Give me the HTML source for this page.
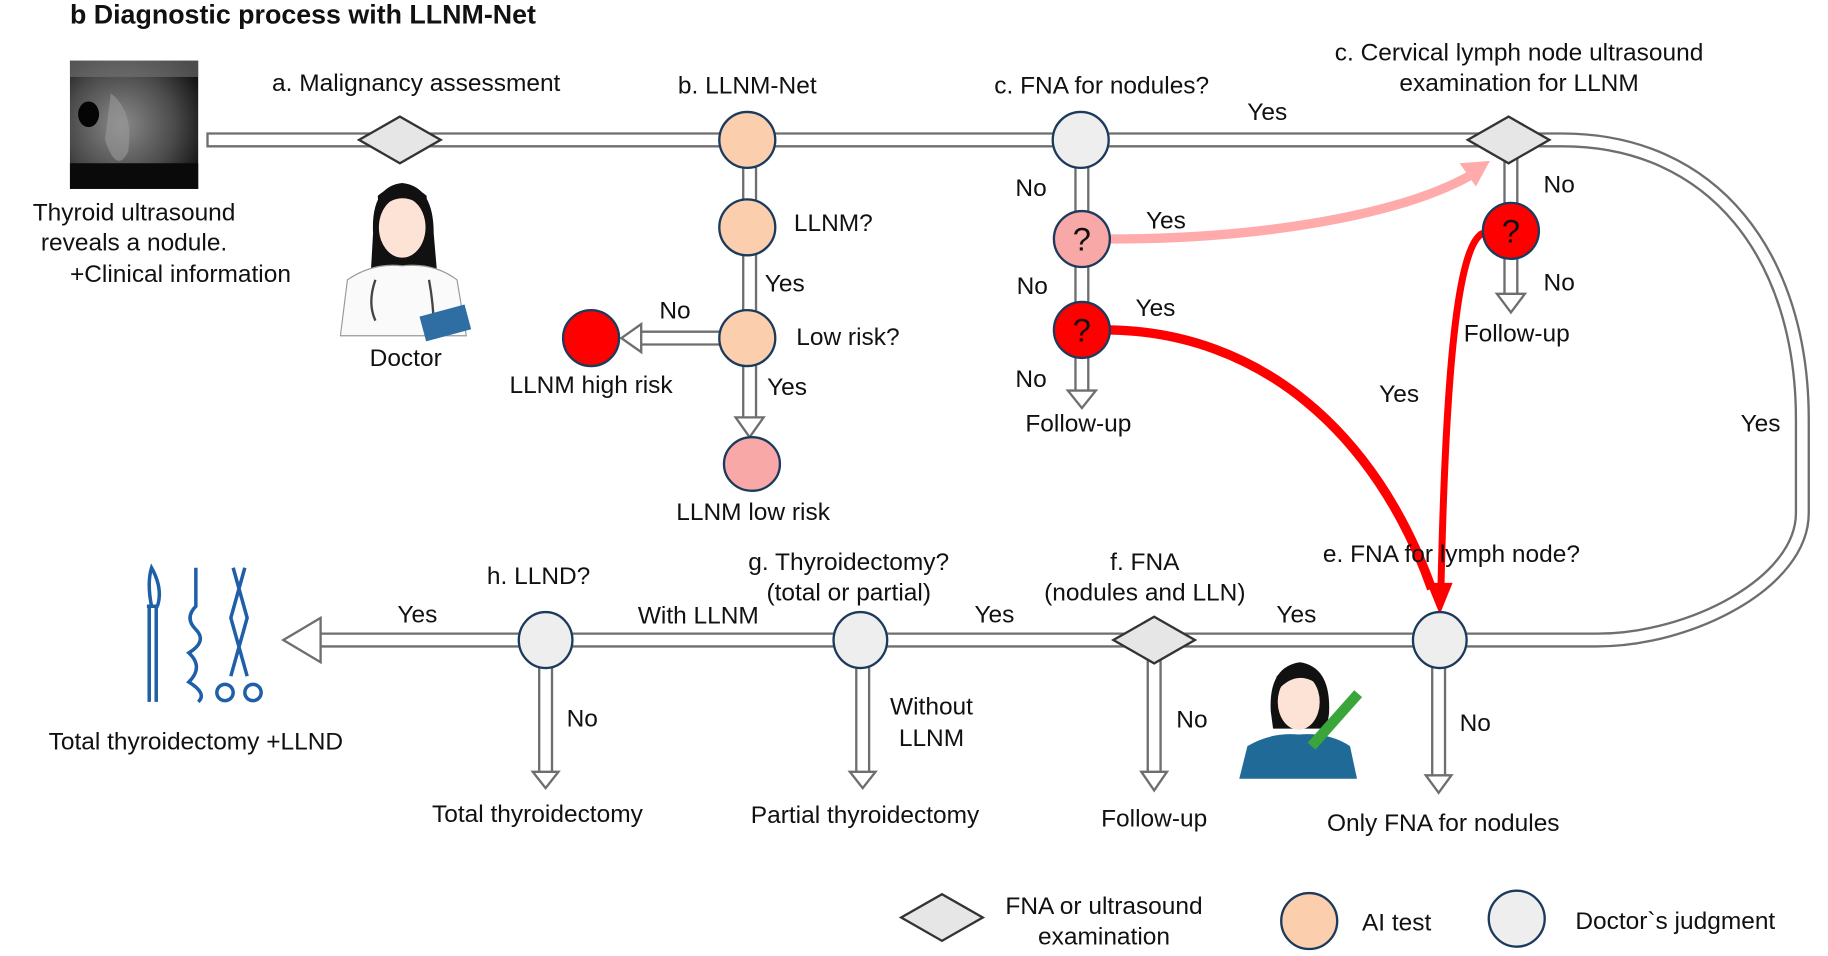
<!DOCTYPE html>
<html><head><meta charset="utf-8"><style>
html,body{margin:0;padding:0;background:#fff;}
svg{display:block;}
text{font-family:"Liberation Sans",Arial,sans-serif;font-size:21px;fill:#111;}
</style></head><body>
<svg width="1828" height="956" viewBox="0 0 1568 820" xmlns="http://www.w3.org/2000/svg">
<defs>
<radialGradient id="us" cx="0.4" cy="0.5" r="0.7">
<stop offset="0" stop-color="#8a8a8a"/><stop offset="0.6" stop-color="#4a4a4a"/><stop offset="1" stop-color="#111"/>
</radialGradient>
</defs>
<text x="60" y="20" style="font-weight:bold;font-size:23px">b Diagnostic process with LLNM-Net</text>

<rect x="60" y="52" width="110" height="110" fill="url(#us)"/>
<rect x="60" y="52" width="110" height="14" fill="#777" opacity="0.6"/>
<ellipse cx="76" cy="98" rx="9" ry="11" fill="#050505"/>
<path d="M95 80 Q115 95 110 130 Q100 150 90 120 Z" fill="#9a9a9a" opacity="0.6"/>
<rect x="60" y="140" width="110" height="22" fill="#0a0a0a"/>

<g fill="none" stroke-linejoin="round">
<g stroke="#6e6e6e" stroke-width="13">
<path d="M177 120 H1340 C1470 120 1546 220 1546 360 V440 C1546 500 1450 549 1370 549 H272"/>
<path d="M643 120 V358"/><path d="M620 290 H550"/>
<path d="M928 120 V335"/><path d="M1296 120 V252"/>
<path d="M468 549 V662"/><path d="M740 549 V662"/><path d="M990 549 V662"/><path d="M1234 549 V665"/>
</g>
<g stroke="#fff" stroke-width="9">
<path d="M179 120 H1340 C1470 120 1546 220 1546 360 V440 C1546 500 1450 549 1370 549 H270"/>
<path d="M643 120 V360"/><path d="M620 290 H548"/>
<path d="M928 120 V337"/><path d="M1296 120 V254"/>
<path d="M468 549 V664"/><path d="M740 549 V664"/><path d="M990 549 V664"/><path d="M1234 549 V667"/>
</g>
</g>
<g fill="#fff" stroke="#6e6e6e" stroke-width="2">
<polygon points="243,549 275,530 275,568"/>
<polygon points="631,358 655,358 643,375"/>
<polygon points="550,278 550,302 533,290"/>
<polygon points="916,335 940,335 928,350"/>
<polygon points="1284,252 1308,252 1296,268"/>
<polygon points="457,662 479,662 468,676"/>
<polygon points="729,662 751,662 740,676"/>
<polygon points="979,662 1001,662 990,678"/>
<polygon points="1223,665 1245,665 1234,680"/>
</g>

<path d="M952 205 C1080 205 1200 185 1262 150" fill="none" stroke="#ffabab" stroke-width="8"/>
<polygon points="1278,138 1252,140 1266,160" fill="#ffabab"/>
<path d="M952 283 C1080 285 1180 370 1228 505" fill="none" stroke="#f00" stroke-width="8"/>
<path d="M1272 200 C1250 210 1240 320 1236 505" fill="none" stroke="#f00" stroke-width="6"/>
<polygon points="1224,500 1246,500 1235,527" fill="#f00"/>

<g stroke="#1c3a5c" stroke-width="2">
<polygon points="308,120 343,100 378,120 343,140" fill="#e6e6e6" stroke="#333"/>
<ellipse cx="641" cy="120" rx="24" ry="24" fill="#fbcfae"/>
<ellipse cx="641" cy="195" rx="24" ry="24" fill="#fbcfae"/>
<ellipse cx="641" cy="290" rx="24" ry="24" fill="#fbcfae"/>
<ellipse cx="645" cy="398" rx="24" ry="23" fill="#f9a8a8"/>
<ellipse cx="507" cy="290" rx="24" ry="24" fill="#f00"/>
<ellipse cx="927" cy="120" rx="24" ry="24" fill="#eeeeee"/>
<ellipse cx="928" cy="205" rx="24" ry="24" fill="#f9a8a8"/>
<ellipse cx="928" cy="283" rx="24" ry="24" fill="#f00"/>
<polygon points="1259,120 1294,100 1329,120 1294,140" fill="#e6e6e6" stroke="#333"/>
<ellipse cx="1296" cy="198" rx="24" ry="24" fill="#f00"/>
<ellipse cx="1235" cy="549" rx="23" ry="24" fill="#eeeeee"/>
<polygon points="955,549 990,529 1025,549 990,569" fill="#e6e6e6" stroke="#333"/>
<ellipse cx="738" cy="549" rx="23" ry="24" fill="#eeeeee"/>
<ellipse cx="468" cy="549" rx="23" ry="24" fill="#eeeeee"/>
<polygon points="773,787 808,767 843,787 808,807" fill="#e6e6e6" stroke="#333"/>
<ellipse cx="1123" cy="790" rx="24" ry="24" fill="#fbcfae"/>
<ellipse cx="1301" cy="788" rx="24" ry="24" fill="#eeeeee"/>
</g>
<text x="928" y="215" text-anchor="middle" style="font-size:28px">?</text>
<text x="928" y="293" text-anchor="middle" style="font-size:28px">?</text>
<text x="1296" y="208" text-anchor="middle" style="font-size:28px">?</text>

<path d="M320 200 Q318 160 345 157 Q372 160 372 200 L375 235 L318 235 Z" fill="#111"/>
<ellipse cx="345" cy="195" rx="20" ry="26" fill="#fde3d6"/>
<path d="M325 180 Q345 160 366 180 L366 168 Q345 150 324 168 Z" fill="#111"/>
<path d="M292 288 L298 240 Q320 225 345 228 Q372 225 392 240 L400 288 Z" fill="#fafafa" stroke="#999"/>
<path d="M322 240 Q315 260 322 275 M368 240 Q372 262 372 280" fill="none" stroke="#444" stroke-width="2"/>
<rect x="362" y="266" width="40" height="22" fill="#2f6ea3" transform="rotate(-15 382 277)"/>

<path d="M1090 610 Q1088 572 1115 568 Q1142 572 1140 612 L1138 625 L1092 625 Z" fill="#111"/>
<ellipse cx="1114" cy="602" rx="18" ry="24" fill="#fde3d6"/>
<path d="M1096 592 Q1114 572 1134 590 L1134 580 Q1114 565 1095 580 Z" fill="#111"/>
<path d="M1063 668 L1070 640 Q1090 628 1114 630 Q1140 628 1158 640 L1164 668 Z" fill="#1f6a96"/>
<path d="M1125 640 L1165 595" stroke="#3aa53a" stroke-width="9"/>

<g fill="none" stroke="#1f5fa8" stroke-width="3">
<path d="M128 602 V520 M134 602 V520 M126 520 H136 M130 520 Q126 500 130 487 Q140 505 135 520"/>
<path d="M168 487 V520 Q158 530 168 540 Q178 550 162 560 Q175 572 162 585 Q178 595 170 602"/>
<path d="M200 487 L212 530 L198 580 M210 487 L198 530 L212 580"/>
<circle cx="193" cy="594" r="7"/><circle cx="217" cy="594" r="7"/>
</g>

<g>
<text x="357" y="78" text-anchor="middle">a. Malignancy assessment</text>
<text x="641" y="80" text-anchor="middle">b. LLNM-Net</text>
<text x="945" y="80" text-anchor="middle">c. FNA for nodules?</text>
<text x="1303" y="52" text-anchor="middle">c. Cervical lymph node ultrasound</text>
<text x="1303" y="78" text-anchor="middle">examination for LLNM</text>
<text x="1087" y="103" text-anchor="middle">Yes</text>
<text x="115" y="189" text-anchor="middle">Thyroid ultrasound</text>
<text x="115" y="215" text-anchor="middle">reveals a nodule.</text>
<text x="60" y="242">+Clinical information</text>
<text x="348" y="314" text-anchor="middle">Doctor</text>
<text x="681" y="198">LLNM?</text>
<text x="656" y="250">Yes</text>
<text x="579" y="273" text-anchor="middle">No</text>
<text x="683" y="296">Low risk?</text>
<text x="507" y="337" text-anchor="middle">LLNM high risk</text>
<text x="658" y="339">Yes</text>
<text x="646" y="446" text-anchor="middle">LLNM low risk</text>
<text x="871" y="168">No</text>
<text x="983" y="196">Yes</text>
<text x="872" y="252">No</text>
<text x="974" y="271">Yes</text>
<text x="871" y="332">No</text>
<text x="925" y="370" text-anchor="middle">Follow-up</text>
<text x="1324" y="165">No</text>
<text x="1324" y="249">No</text>
<text x="1301" y="293" text-anchor="middle">Follow-up</text>
<text x="1183" y="345">Yes</text>
<text x="1493" y="370">Yes</text>
<text x="1245" y="482" text-anchor="middle">e. FNA for lymph node?</text>
<text x="982" y="489" text-anchor="middle">f. FNA</text>
<text x="982" y="515" text-anchor="middle">(nodules and LLN)</text>
<text x="728" y="489" text-anchor="middle">g. Thyroidectomy?</text>
<text x="728" y="515" text-anchor="middle">(total or partial)</text>
<text x="462" y="501" text-anchor="middle">h. LLND?</text>
<text x="358" y="534" text-anchor="middle">Yes</text>
<text x="599" y="535" text-anchor="middle">With LLNM</text>
<text x="853" y="534" text-anchor="middle">Yes</text>
<text x="1112" y="534" text-anchor="middle">Yes</text>
<text x="486" y="623">No</text>
<text x="799" y="613" text-anchor="middle">Without</text>
<text x="799" y="640" text-anchor="middle">LLNM</text>
<text x="1009" y="624">No</text>
<text x="1252" y="627">No</text>
<text x="168" y="643" text-anchor="middle">Total thyroidectomy +LLND</text>
<text x="461" y="705" text-anchor="middle">Total thyroidectomy</text>
<text x="742" y="706" text-anchor="middle">Partial thyroidectomy</text>
<text x="990" y="709" text-anchor="middle">Follow-up</text>
<text x="1238" y="713" text-anchor="middle">Only FNA for nodules</text>
<text x="947" y="784" text-anchor="middle">FNA or ultrasound</text>
<text x="947" y="810" text-anchor="middle">examination</text>
<text x="1198" y="798" text-anchor="middle">AI test</text>
<text x="1437" y="797" text-anchor="middle">Doctor`s judgment</text>
</g>
</svg>
</body></html>
